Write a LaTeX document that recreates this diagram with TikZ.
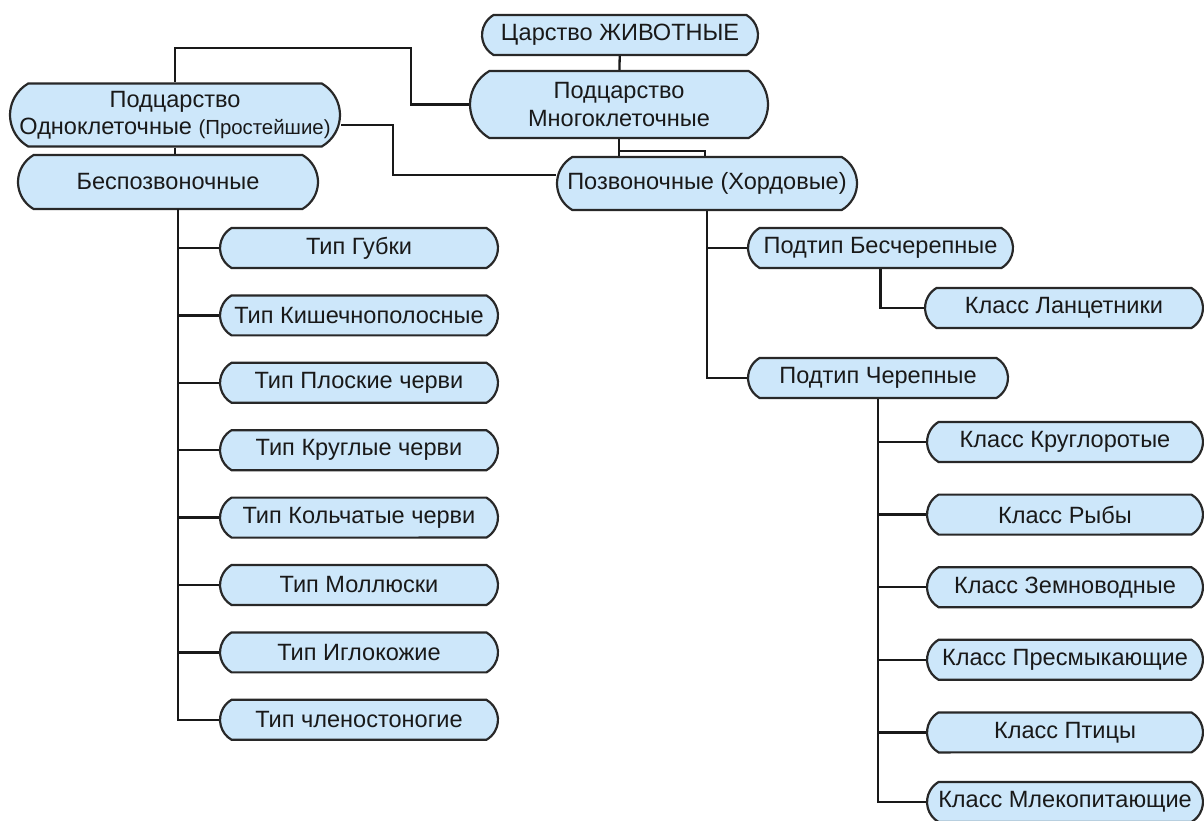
\documentclass[tikz,border=0pt]{standalone}
\usepackage{fontspec}
\setmainfont{Liberation Sans}
\usepackage{xcolor}
\usetikzlibrary{shapes.misc}
\definecolor{boxfill}{RGB}{205,231,250}
\definecolor{boxline}{RGB}{40,40,40}
\tikzset{
	box/.style={
			rounded rectangle, rounded rectangle arc length=120,
			draw=boxline, fill=boxfill, line width=1.25pt, inner sep=0pt,
			align=center, text=black!90, minimum height=0.8cm,
			font=\fontsize{13.4}{15.5}\selectfont
		},
	tipbox/.style={box, minimum width=5.56cm},
	klassbox/.style={box, minimum width=5.52cm},
	link/.style={line width=1.3pt, black!90}
}

\begin{document}
\begin{tikzpicture}[x=0.02cm, y=-0.02cm]
		\useasboundingbox (0,0) rectangle (1204,821);
		\node[box, minimum width=5.52cm] (tsar) at (620,35) {Царство ЖИВОТНЫЕ};
		\node[box, minimum width=5.96cm, minimum height=1.34cm] (mnogo) at (619,104.5) {Подцарство\\Многоклеточные};
		\node[box, minimum width=6.6cm, minimum height=1.26cm] (odno) at (175,115) {Подцарство\\Одноклеточные {\fontsize{11.6}{12}\selectfont(Простейшие)}};
		\node[box, minimum width=6cm, minimum height=1.08cm] (bespoz) at (168,182) {Беспозвоночные};
		\node[box, minimum width=6cm, minimum height=1.06cm] (pozv) at (707,183.5) {Позвоночные (Хордовые)};
		\node[tipbox] (tip1) at (359,248) {Тип Губки};
		\node[tipbox] (tip2) at (359,315.4) {Тип Кишечнополосные};
		\node[tipbox] (tip3) at (359,382.8) {Тип Плоские черви};
		\node[tipbox] (tip4) at (359,450.2) {Тип Круглые черви};
		\node[tipbox] (tip5) at (359,517.6) {Тип Кольчатые черви};
		\node[tipbox] (tip6) at (359,585) {Тип Моллюски};
		\node[tipbox] (tip7) at (359,652.4) {Тип Иглокожие};
		\node[tipbox] (tip8) at (359,719.8) {Тип членостоногие};
		\node[box, minimum width=5.3cm] (podbes) at (880.5,248) {Подтип Бесчерепные};
		\node[box, minimum width=5.56cm] (lanc) at (1064,308) {Класс Ланцетники};
		\node[box, minimum width=5.2cm] (podcher) at (878,378) {Подтип Черепные};
		\node[klassbox] (kl1) at (1065,442) {Класс Круглоротые};
		\node[klassbox] (kl2) at (1065,514.6) {Класс Рыбы};
		\node[klassbox] (kl3) at (1065,587.2) {Класс Земноводные};
		\node[klassbox] (kl4) at (1065,659.8) {Класс Пресмыкающие};
		\node[klassbox] (kl5) at (1065,732.4) {Класс Птицы};
		\node[klassbox] (kl6) at (1065,802) {Класс Млекопитающие};
		\coordinate (kl) at (411,48);
		\coordinate (kr) at (393,175);
		\coordinate (km) at (705,151);
		\coordinate (bbus) at (178,209);
		\draw[link] (tsar) -- (mnogo);
		\draw[link] (mnogo.west) -| (kl) -| (odno.north);
		\draw[link] (odno.south) -- (odno.south |- bespoz.north);
		\draw[link] ([yshift=-0.2cm]odno.east) -| (kr) -- (kr -| pozv.west);
		\draw[link] (mnogo.south) -- (mnogo.south |- pozv.north);
		\draw[link] (mnogo.south |- km) -- (km) -- (km |- pozv.north);
		\draw[link] (bbus) |- (tip8.west);
		\draw[link] (tip1.west) -- (tip1.west -| bbus);
		\draw[link] (tip2.west) -- (tip2.west -| bbus);
		\draw[link] (tip3.west) -- (tip3.west -| bbus);
		\draw[link] (tip4.west) -- (tip4.west -| bbus);
		\draw[link] (tip5.west) -- (tip5.west -| bbus);
		\draw[link] (tip6.west) -- (tip6.west -| bbus);
		\draw[link] (tip7.west) -- (tip7.west -| bbus);
		\draw[link] (pozv.south) |- (podcher.west);
		\draw[link] (podbes.west) -- (podbes.west -| pozv.south);
		\draw[link] (podbes.south) |- (lanc.west);
		\draw[link] (podcher.south) |- (kl6.west);
		\draw[link] (kl1.west) -- (kl1.west -| podcher.south);
		\draw[link] (kl2.west) -- (kl2.west -| podcher.south);
		\draw[link] (kl3.west) -- (kl3.west -| podcher.south);
		\draw[link] (kl4.west) -- (kl4.west -| podcher.south);
		\draw[link] (kl5.west) -- (kl5.west -| podcher.south);
	\end{tikzpicture}
\end{document}
